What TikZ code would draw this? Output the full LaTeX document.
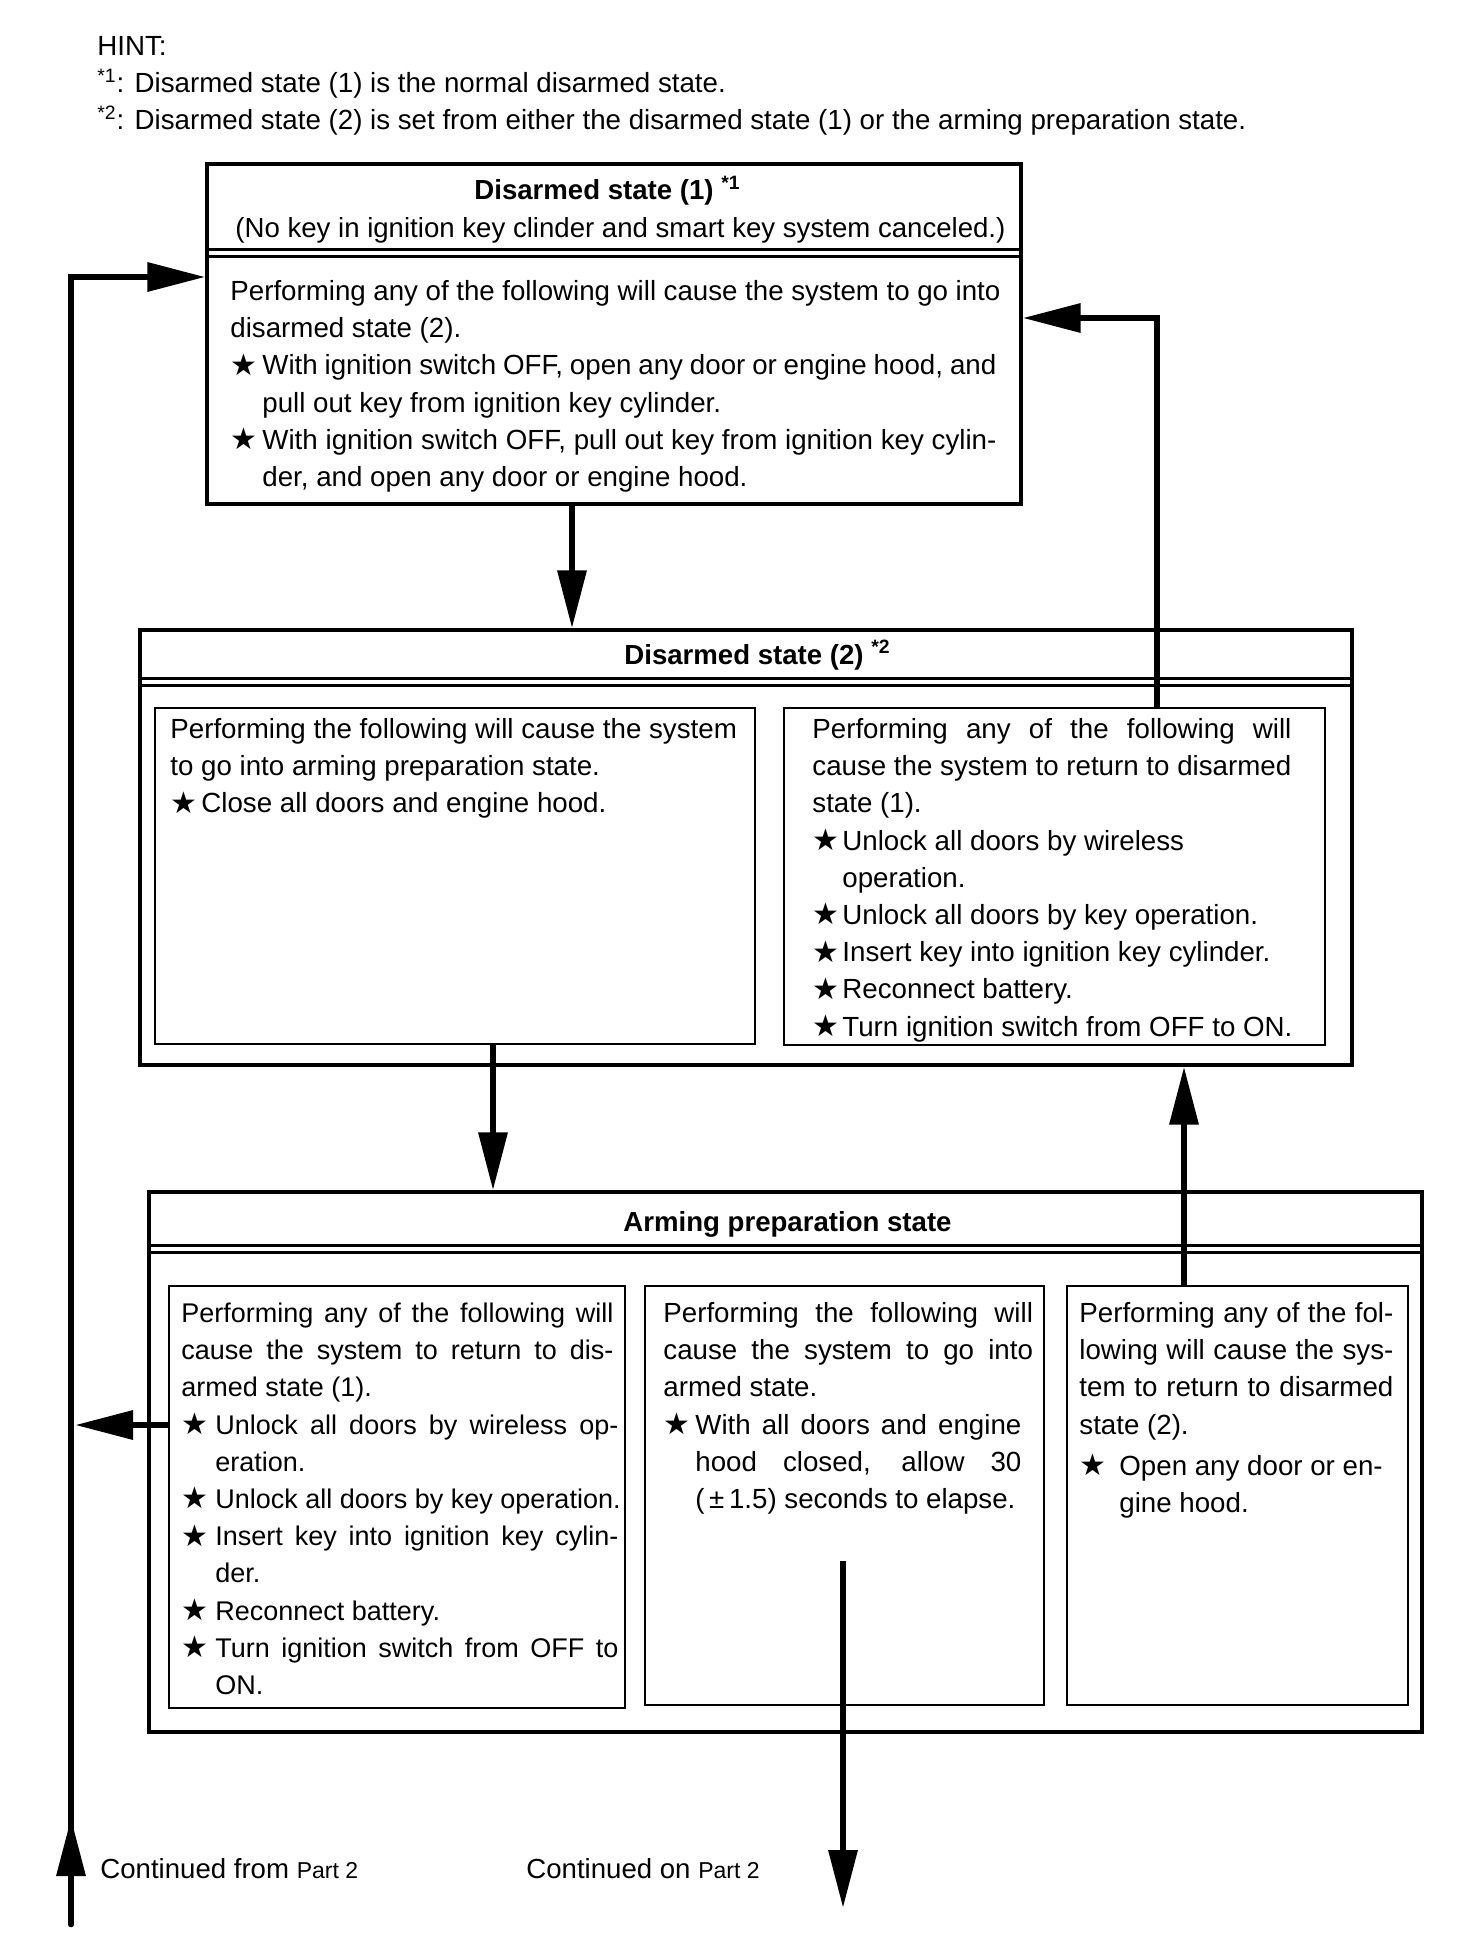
\documentclass[tikz,border=0pt]{standalone}
\usepackage{fontspec}
\setmainfont{Liberation Sans}
\newfontfamily\symf{DejaVu Sans}
\usetikzlibrary{arrows.meta,fit}
\newcommand\st[1]{\makebox[#1][l]{\raisebox{-0.2pt}{\symf\fontsize{15}{15}\selectfont ★}}}
\newcommand\J[2]{\makebox[#1][s]{#2}}
\newcommand\ind[1]{\hspace*{#1}}
\begin{document}
\begin{tikzpicture}[x=0.5pt,y=-0.5pt,
  txt/.style={font=\fontsize{13.85}{18.6}\selectfont, align=left, inner sep=0, anchor=north west},
  txts/.style={txt, font=\fontsize{13.5}{18.6}\selectfont},
  ttl/.style={font=\fontsize{13.8}{18.6}\selectfont\bfseries, inner sep=0, anchor=base west},
  sub/.style={font=\fontsize{13.8}{18.6}\selectfont, inner sep=0, anchor=base west},
  outer/.style={draw, line width=1.6pt, inner sep=0},
  inner/.style={draw, line width=1.1pt, inner sep=0},
  dbl/.style={line width=1.5pt},
  arr/.style={line width=3.2pt, line join=miter, -{Triangle[length=29pt,width=14pt]}}]
\useasboundingbox (0,0) rectangle (1472,1958);
\fill[white] (0,0) rectangle (1472,1958);

% hint
\node[txt] (hint) at (97,29) {\strut HINT:\\
\textsuperscript{*1}: Disarmed state (1) is the normal disarmed state.\\
\textsuperscript{*2}: Disarmed state (2) is set from either the disarmed state (1) or the arming preparation state.};

% boxes
\node[outer, fit={(207,164)(1021,504)}] (b1) {};
\node[outer, fit={(140,630)(1352,1065)}] (b2) {};
\node[inner, fit={(155,708)(755,1044)}] (b2L) {};
\node[inner, fit={(784,708)(1325,1045)}] (b2R) {};
\node[outer, fit={(149,1192)(1422,1732)}] (b3) {};
\node[inner, fit={(169,1286)(625,1708)}] (b3A) {};
\node[inner, fit={(645,1286)(1044,1705)}] (b3B) {};
\node[inner, fit={(1067,1286)(1408,1705)}] (b3C) {};

% double rules
\draw[dbl] (207,250) -- (1021,250);
\draw[dbl] (207,257) -- (1021,257);
\draw[dbl] (140,678) -- (1352,678);
\draw[dbl] (140,685) -- (1352,685);
\draw[dbl] (149,1245) -- (1422,1245);
\draw[dbl] (149,1252) -- (1422,1252);

% titles
\node[ttl] (t1) at (474,200) {Disarmed state (1) \textsuperscript{*1}};
\node[sub] (s1) at (235,238) {(No key in ignition key clinder and smart key system canceled.)};
\node[ttl] (t2) at (624,664) {Disarmed state (2) \textsuperscript{*2}};
\node[ttl] (t3) at (623,1231) {Arming preparation state};

% box 1 body
\node[txt] (b1t) at (230,274) {\strut\J{385pt}{Performing any of the following will cause the system to go into}\\
disarmed state (2).\\
\st{16pt}\J{367pt}{With ignition switch OFF, open any door or engine hood, and}\\
\ind{16pt}pull out key from ignition key cylinder.\\
\st{16pt}\J{367pt}{With ignition switch OFF, pull out key from ignition key cylin-}\\
\ind{16pt}der, and open any door or engine hood.};

% box 2
\node[txt] (b2Lt) at (170,712) {\strut Performing the following will cause the system\\
to go into arming preparation state.\\
\st{15.5pt}Close all doors and engine hood.};
\node[txt] (b2Rt) at (812,712) {\strut\J{239.5pt}{Performing any of the following will}\\
cause the system to return to disarmed\\
state (1).\\
\st{15pt}Unlock all doors by wireless\\
\ind{15pt}operation.\\
\st{15pt}Unlock all doors by key operation.\\
\st{15pt}Insert key into ignition key cylinder.\\
\st{15pt}Reconnect battery.\\
\st{15pt}Turn ignition switch from OFF to ON.};

% box 3
\node[txts] (b3At) at (181,1296) {\strut\J{216pt}{Performing any of the following will}\\
\J{216pt}{cause the system to return to dis-}\\
armed state (1).\\
\st{17pt}\J{201.5pt}{Unlock all doors by wireless op-}\\
\ind{17pt}eration.\\
\st{17pt}Unlock all doors by key operation.\\
\st{17pt}\J{201.5pt}{Insert key into ignition key cylin-}\\
\ind{17pt}der.\\
\st{17pt}Reconnect battery.\\
\st{17pt}\J{201.5pt}{Turn ignition switch from OFF to}\\
\ind{17pt}ON.};
\node[txt] (b3Bt) at (663,1296) {\strut\J{184.8pt}{Performing the following will}\\
\J{184.8pt}{cause the system to go into}\\
armed state.\\
\st{16pt}\J{163pt}{With all doors and engine}\\
\ind{16pt}\J{163pt}{hood closed, allow 30}\\
\ind{16pt}(\,±\,1.5) seconds to elapse.};
\node[txt] (b3Ct) at (1079,1296) {\strut\J{157pt}{Performing any of the fol-}\\
\J{157pt}{lowing will cause the sys-}\\
\J{157pt}{tem to return to disarmed}\\
state (2).\\[2pt]
\st{20pt}Open any door or en-\\
\ind{20pt}gine hood.};

% continued labels
\node[sub] (cfrom) at (100,1878) {Continued from {\fontsize{11.5}{12}\selectfont Part 2}};
\node[sub] (con) at (526,1878) {Continued on {\fontsize{11.5}{12}\selectfont Part 2}};

% helper coordinates
\coordinate (xA) at (572,0);
\coordinate (xB) at (493,0);
\coordinate (xC) at (1184,0);
\coordinate (xD) at (1157,0);
\coordinate (yD) at (0,318);
\coordinate (xL) at (75,0);
\coordinate (yE) at (0,1425);
\coordinate (yL) at (0,277);
\coordinate (cf) at (71,1924);
\coordinate (cfTip) at (71,1818);
\coordinate (coS) at (843,1561);
\coordinate (coE) at (843,1908);

% connectors
\draw[arr] (b1.south -| xA) -- (b2.north -| xA);
\draw[arr] (b2L.south -| xB) -- (b3.north -| xB);
\draw[arr] (b3C.north -| xC) -- (b2.south -| xC);
\draw[arr] (b2R.north -| xD) |- (b1.east |- yD);
\draw[arr] (b3A.west |- yE) -- (xL |- yE);
\draw[arr, line cap=round] (cf) |- (b1.west |- yL);
\draw[arr, line cap=round] (cf) -- (cfTip);
\draw[arr] (coS) -- (coE);
\end{tikzpicture}
\end{document}
